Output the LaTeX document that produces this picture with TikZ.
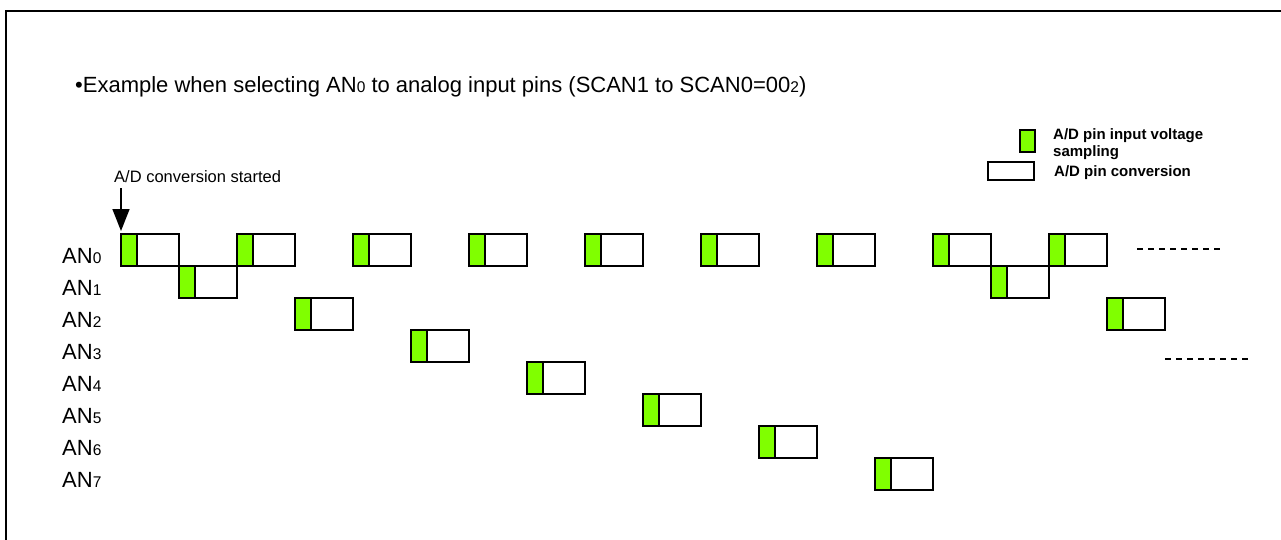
\documentclass[tikz,border=0pt]{standalone}
\usepackage{fontspec}
\setmainfont{Liberation Sans}
\usetikzlibrary{arrows.meta}
\definecolor{sampgreen}{HTML}{80FF00}
\tikzset{
  convbox/.style={draw, line width=1.5pt, fill=white, minimum width=58pt, minimum height=32pt, inner sep=0pt, outer sep=0pt},
  sampbox/.style={draw, line width=1.5pt, fill=sampgreen, minimum width=16pt, minimum height=32pt, inner sep=0pt, outer sep=0pt, anchor=west},
  rowlabel/.style={anchor=west, inner sep=0pt, font=\fontsize{22}{26}\selectfont},
  legtext/.style={anchor=west, inner sep=0pt, align=left, font=\fontsize{15}{17}\selectfont\bfseries},
  dotline/.style={line width=1.5pt, dash pattern=on 6pt off 5pt}
}
\newcommand{\smalldig}[1]{{\fontsize{15.5}{15.5}\selectfont #1}}
\begin{document}
\begin{tikzpicture}[x=1pt,y=-1pt]
\useasboundingbox (0,0) rectangle (1281,540);
% frame
\draw[line width=2.5pt] (6,540) -- (6,11) -- (1281,11);
% title
\node[anchor=west, inner sep=0pt, font=\fontsize{22}{24}\selectfont] (title) at (75,87)
  {\textbullet Example when selecting AN\smalldig{0} to analog input pins (SCAN1 to SCAN0=00\smalldig{2})};
% legend
\node[draw, line width=1.5pt, fill=sampgreen, minimum width=15pt, minimum height=22pt, inner sep=0pt] (legs) at (1027.5,141) {};
\node[draw, line width=1.5pt, fill=white, minimum width=46pt, minimum height=18pt, inner sep=0pt] (legc) at (1011,171) {};
\node[legtext] (legstext) at (1053,144.5) {A/D pin input voltage\\sampling};
\node[legtext] (legctext) at (1054,173) {A/D pin conversion};
% row labels
\foreach \r in {0,...,7}{
  \node[rowlabel] (lab\r) at (62,{256+32*\r}) {AN\smalldig{\r}};
}
% boxes
\foreach \s/\r in {0/0,1/1,2/0,3/2,4/0,5/3,6/0,7/4,8/0,9/5,10/0,11/6,12/0,13/7,14/0,15/1,16/0,17/2}{
  \node[convbox] (b\s) at ({121+58*\s+29},{250+32*\r}) {};
  \node[sampbox] (g\s) at (b\s.west) {};
}
% start label and arrow
\node[anchor=west, inner sep=0pt, font=\fontsize{16.5}{18}\selectfont] (start) at (114,177) {A/D conversion started};
\coordinate (arrtop) at (121,188);
\coordinate (arrtip) at (121,231);
\draw[line width=1.5pt, -{Triangle[width=17pt,length=22pt]}] (arrtop) -- (arrtip);
% continuation dashes
\coordinate (d1a) at (1137,249);
\coordinate (d1b) at (1222,249);
\coordinate (d2a) at (1165,359);
\coordinate (d2b) at (1248,359);
\draw[dotline] (d1a) -- (d1b);
\draw[dotline] (d2a) -- (d2b);
\end{tikzpicture}
\end{document}
